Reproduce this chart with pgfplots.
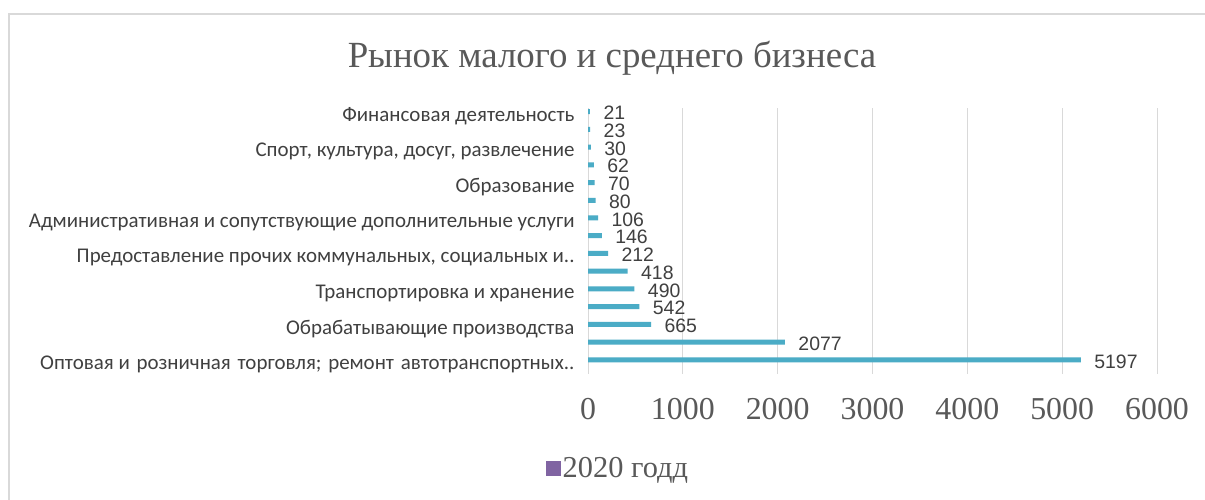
\documentclass[border=0pt]{standalone}
\usepackage{fontspec}
\setmainfont{Liberation Serif}
\newfontfamily\catfont{Carlito}
\newfontfamily\numfont{Liberation Sans}
\usepackage{pgfplots}
\usepackage{pgfplotstable}
\pgfplotsset{compat=1.18}

\definecolor{barblue}{HTML}{4BACC6}
\definecolor{gridgray}{HTML}{D9D9D9}
\definecolor{txtgray}{HTML}{595959}
\definecolor{lblgray}{HTML}{404040}
\definecolor{legpurple}{HTML}{8064A2}

% 0 = bottom bar, 14 = top bar
\pgfplotstableread{
pos val
0 5197
1 2077
2 665
3 542
4 490
5 418
6 212
7 146
8 106
9 80
10 70
11 62
12 30
13 23
14 21
}\sectors

\begin{document}
\begin{tikzpicture}
\path[use as bounding box, fill=white] (0bp,0bp) rectangle (1205bp,500bp);
\draw[gridgray, line width=2bp] (9bp,0bp) -- (9bp,486bp) -- (1205bp,486bp);
\node[text=txtgray, font=\fontsize{37}{44}\selectfont] at (612bp,442bp) {Рынок малого и среднего бизнеса};
\begin{axis}[
  at={(588bp,126bp)}, anchor=south west,
  scale only axis, width=569bp, height=266bp,
  xbar, bar width=5bp,
  xmin=0, xmax=6000, ymin=-0.6, ymax=14.4,
  xtick={0,1000,...,6000},
  scaled ticks=false,
  /pgf/number format/1000 sep={},
  /pgf/number format/assume math mode=true,
  xmajorgrids, grid style={gridgray, line width=0.8bp},
  axis line style={draw=none},
  major tick length=0pt,
  xticklabel style={font=\fontsize{32}{38}\selectfont, text=txtgray, yshift=-21bp},
  ytick={0,2,...,14},
  yticklabels={
    {Оптовая и\ \kern2bp розничная\ \kern2bp торговля;\ \kern2bp ремонт\ \kern2bp автотранспортных..},
    {Обрабатывающие производства},
    {Транспортировка и хранение},
    {Предоставление прочих коммунальных, социальных и..},
    {Административная и сопутствующие дополнительные услуги},
    {Образование},
    {Спорт, культура, досуг, развлечение},
    {Финансовая деятельность}},
  yticklabel style={font=\catfont\fontsize{21}{24}\selectfont, text=lblgray, xshift=-10bp, yshift=-1bp},
  nodes near coords,
  every node near coord/.append style={font=\numfont\fontsize{19.5}{22}\selectfont, text=lblgray, xshift=10bp, yshift=-1.5bp},
  legend style={at={(0.053,-0.355)}, anchor=center, draw=none, fill=none,
    font=\fontsize{30.5}{36}\selectfont, text=txtgray},
]
\addplot[fill=barblue, draw=none, forget plot] table[x=val, y=pos] {\sectors};
\addlegendimage{legend image code/.code={\fill[legpurple] (-4bp,-7bp) rectangle (10bp,7bp);}}
\addlegendentry{2020 годд}
\end{axis}
\end{tikzpicture}
\end{document}
